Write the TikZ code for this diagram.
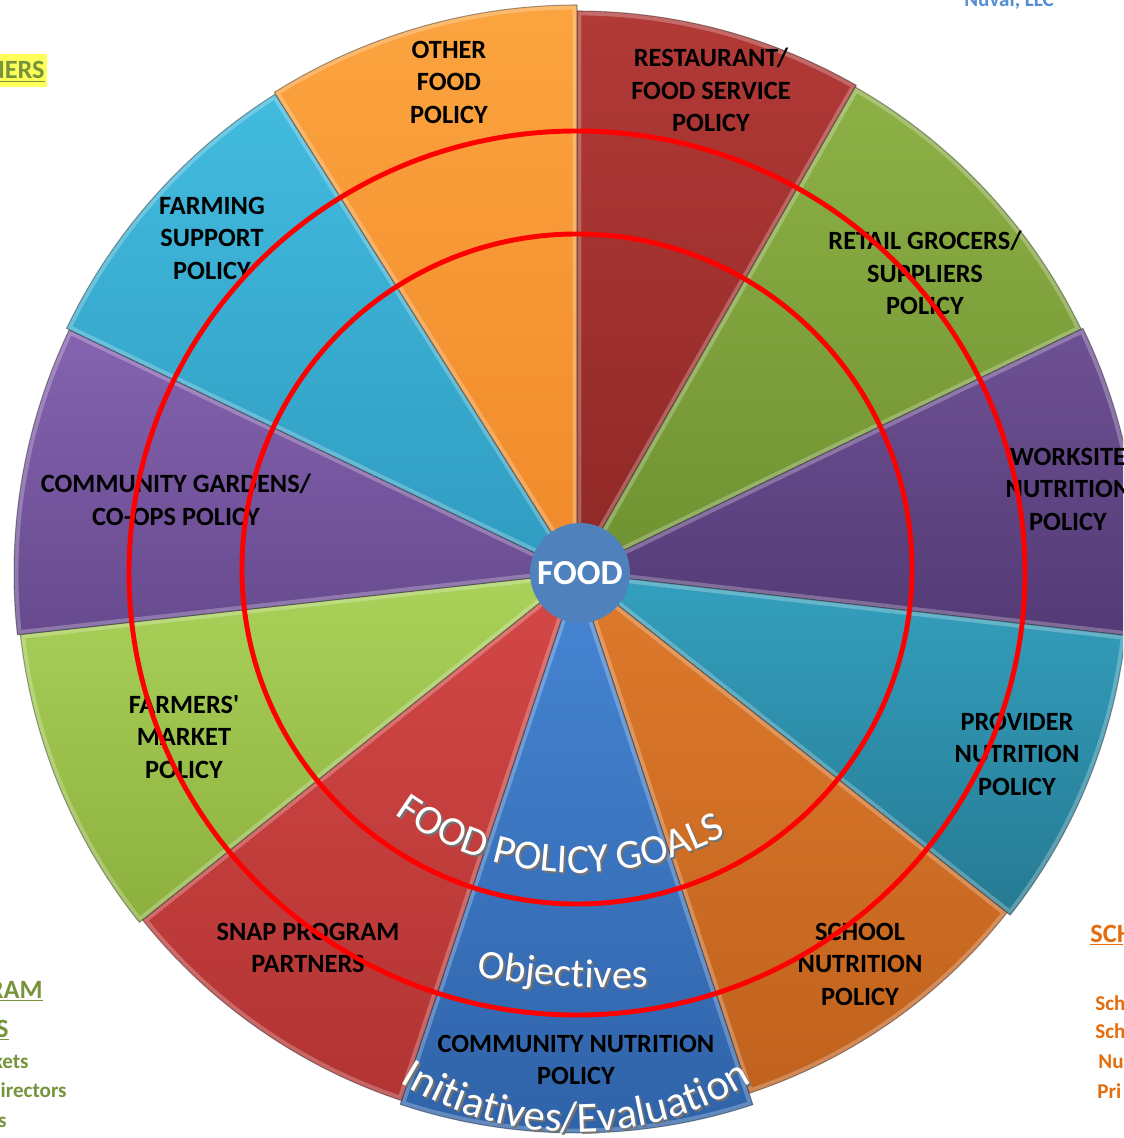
\documentclass[tikz,border=0pt]{standalone}
\usepackage{fontspec}
\setmainfont{Carlito}
\usetikzlibrary{decorations.text}

\definecolor{ringred}{HTML}{FF0000}
\definecolor{foodblue}{HTML}{4F81BD}
\definecolor{olivetext}{HTML}{77933C}
\definecolor{schooltext}{HTML}{E46C0A}
\definecolor{nuvaltext}{HTML}{558ED5}
\definecolor{markyellow}{HTML}{FFFF5A}
% slice colours, top / bottom
\definecolor{restA}{HTML}{B23A37}\definecolor{restB}{HTML}{8E2826}
\definecolor{retailA}{HTML}{8DB046}\definecolor{retailB}{HTML}{6F9232}
\definecolor{workA}{HTML}{6E5194}\definecolor{workB}{HTML}{533A75}
\definecolor{provA}{HTML}{34A0BE}\definecolor{provB}{HTML}{267A93}
\definecolor{schoolA}{HTML}{DE7A2C}\definecolor{schoolB}{HTML}{C0621E}
\definecolor{commA}{HTML}{4686D4}\definecolor{commB}{HTML}{2F62A8}
\definecolor{snapA}{HTML}{D44846}\definecolor{snapB}{HTML}{B13433}
\definecolor{farmA}{HTML}{AAD25A}\definecolor{farmB}{HTML}{8CB03E}
\definecolor{gardA}{HTML}{8563B0}\definecolor{gardB}{HTML}{674A8E}
\definecolor{suppA}{HTML}{42BBDF}\definecolor{suppB}{HTML}{2F9CC0}
\definecolor{otherA}{HTML}{FBA43F}\definecolor{otherB}{HTML}{F0892A}

\newcommand{\slicefont}{\bfseries\fontsize{15}{18.5}\selectfont}
\newcommand{\goalsfont}{\fontsize{23.5}{27}\selectfont}
\newcommand{\objfont}{\fontsize{23}{27}\selectfont}
\newcommand{\initfont}{\fontsize{24.5}{28}\selectfont}

\tikzset{
  slicelabel/.style={font=\slicefont, align=center, inner sep=0pt},
  ring/.style={draw=ringred, line width=2.8pt},
  sidehead/.style={font=\bfseries\fontsize{15}{18}\selectfont, inner sep=0pt},
  sideitem/.style={font=\bfseries\fontsize{12}{14}\selectfont, inner sep=0pt},
}

\begin{document}
\begin{tikzpicture}[x=0.02cm, y=0.02cm]
\useasboundingbox (-577,-565) rectangle (546,573);
\clip (-577,-565) rectangle (546,573);

\foreach \a/\b/\r/\ct/\cb in {90/60.2/562/restA/restB, 60.2/25.8/560/retailA/retailB,
    25.8/-6.5/562/workA/workB, -6.5/-38.3/552/provA/provB, -38.3/-71.7/548/schoolA/schoolB,
    -71.7/-108.4/560/commA/commB, -108.4/-141.4/556/snapA/snapB, -141.4/-173.7/560/farmA/farmB,
    -173.7/-205.6/563/gardA/gardB, -205.6/-237.8/566/suppA/suppB, -237.8/-270/568/otherA/otherB}{
  \path[top color=\ct, bottom color=\cb] (0,0) -- (\a:\r) arc[start angle=\a, end angle=\b, radius=\r] -- cycle;
  \begin{scope}
    \clip (0,0) -- (\a:\r) arc[start angle=\a, end angle=\b, radius=\r] -- cycle;
    \draw[white, opacity=.25, line width=5pt, line join=round] (0,0) -- (\a:\r) arc[start angle=\a, end angle=\b, radius=\r] -- cycle;
  \end{scope}
  \draw[black, opacity=.35, line width=.6pt, line join=round] (0,0) -- (\a:\r) arc[start angle=\a, end angle=\b, radius=\r] -- cycle;
}

\node[slicelabel] (otherfood) at (-128,491) {OTHER\\FOOD\\POLICY};
\node[slicelabel] (restaurant) at (134,483) {RESTAURANT/\\FOOD SERVICE\\POLICY};
\node[slicelabel] (retail) at (348,300) {RETAIL GROCERS/\\SUPPLIERS\\POLICY};
\node[slicelabel] (worksite) at (491,84) {WORKSITE\\NUTRITION\\POLICY};
\node[slicelabel] (provider) at (440,-181) {PROVIDER\\NUTRITION\\POLICY};
\node[slicelabel] (school) at (283,-391) {SCHOOL\\NUTRITION\\POLICY};
\node[slicelabel] (community) at (-1,-487) {COMMUNITY NUTRITION\\POLICY};
\node[slicelabel] (snap) at (-269,-375) {SNAP PROGRAM\\PARTNERS};
\node[slicelabel] (farmers) at (-393,-164) {FARMERS\textquotesingle\\MARKET\\POLICY};
\node[slicelabel] (gardens) at (-401,73) {COMMUNITY GARDENS/\\CO-OPS POLICY};
\node[slicelabel] (farming) at (-365,335) {FARMING\\SUPPORT\\POLICY};

\draw[ring] (0,4) circle[radius=335];
\draw[ring] (0,0) ellipse[x radius=448, y radius=442];

\foreach \dx/\dy/\tc in {2/-2/black!55, 0/0/white}{
  \begin{scope}[shift={(\dx,\dy)}]
    \path[decorate, decoration={text along path, text color=\tc, text align=center,
        text={|\goalsfont|FOOD POLICY GOALS}}]
      (0,13) ++(206.4:313) arc[start angle=206.4, end angle=326.4, radius=313];
    \path[decorate, decoration={text along path, text color=\tc, text align=center,
        text={|\objfont|Objectives}}]
      (38,385) ++(246.2:800) arc[start angle=246.2, end angle=286.2, radius=800];
    \path[decorate, decoration={text along path, text color=\tc, text align=center,
        text={|\initfont|Initiatives/Evaluation}}]
      (-1,-219) ++(200:340) arc[start angle=200, end angle=340, radius=340];
  \end{scope}
}

\node[circle, fill=foodblue, minimum size=2cm, inner sep=0pt, text=white,
  font=\bfseries\fontsize{20}{24}\selectfont] (food) at (3,0) {FOOD};

\fill[markyellow] (-577,486) rectangle (-530,519);
\node[sidehead, text=olivetext, anchor=base east] (partnershead) at (-532,494) {\underline{NERS}};
\node[sidehead, text=olivetext, anchor=base east] (programhead) at (-534,-425) {\underline{RAM}};
\node[sidehead, text=olivetext, anchor=base east] (programhead2) at (-568,-464) {\underline{S}};
\node[sideitem, text=olivetext, anchor=base east] (itemmarkets) at (-548,-495) {kets};
\node[sideitem, text=olivetext, anchor=base east] (itemdirectors) at (-510,-524) {irectors};
\node[sideitem, text=olivetext, anchor=base east] (itemlast) at (-570,-554) {s};

\node[sidehead, text=schooltext, anchor=base west] (schoolhead) at (513,-369) {\underline{SCH}};
\node[sideitem, text=schooltext, anchor=base west] (schoolone) at (518,-437) {Sch};
\node[sideitem, text=schooltext, anchor=base west] (schooltwo) at (518,-465) {Sch};
\node[sideitem, text=schooltext, anchor=base west] (schoolnu) at (521,-495) {Nu};
\node[sideitem, text=schooltext, anchor=base west] (schoolpri) at (520,-525) {Pri};

\node[sideitem, text=nuvaltext, anchor=base] (nuval) at (432,566) {Nuval, LLC};
\end{tikzpicture}
\end{document}
